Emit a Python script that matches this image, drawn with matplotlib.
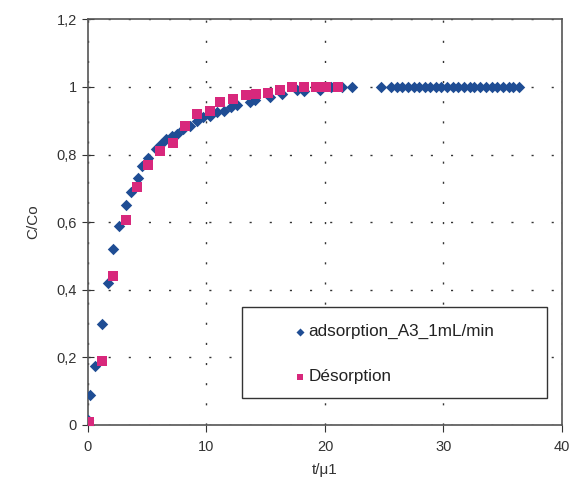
import matplotlib
matplotlib.use('Agg')
import matplotlib.pyplot as plt
from matplotlib.patches import Rectangle

plt.rcParams['font.family'] = ['Liberation Sans', 'DejaVu Sans']

# adsorption_A3_1mL/min (blue diamonds)
ads_t = [0, 0.15, 0.6, 1.15, 1.65, 2.1, 2.6, 3.2, 3.65, 4.2, 4.6, 5.1, 5.7, 6.2, 6.6,
         7.1, 7.5, 8.0, 8.6, 9.2, 9.7, 10.3, 10.9, 11.5, 12.1, 12.6, 13.7, 14.1, 15.4,
         16.4, 17.6, 18.2, 19.6, 20.5, 21.4, 22.3, 24.7,
         25.6, 26.1, 26.5, 27.0, 27.5, 27.9, 28.4, 28.9, 29.4, 29.8, 30.3, 30.8,
         31.2, 31.7, 32.2, 32.6, 33.1, 33.6, 34.1, 34.5, 35.0, 35.5, 35.9, 36.4]
ads_c = [0.015, 0.09, 0.175, 0.30, 0.42, 0.52, 0.59, 0.65, 0.69, 0.73, 0.765, 0.79, 0.815, 0.83, 0.845,
         0.855, 0.86, 0.875, 0.885, 0.90, 0.91, 0.915, 0.925, 0.93, 0.94, 0.945, 0.955, 0.96, 0.97,
         0.98, 0.99, 0.988, 0.99, 1.0, 1.0, 1.0, 1.0,
         1.0, 1.0, 1.0, 1.0, 1.0, 1.0, 1.0, 1.0, 1.0, 1.0, 1.0, 1.0,
         1.0, 1.0, 1.0, 1.0, 1.0, 1.0, 1.0, 1.0, 1.0, 1.0, 1.0, 1.0]

# Désorption (pink squares)
des_t = [0, 0.1, 1.15, 2.1, 3.2, 4.1, 5.1, 6.1, 7.2, 8.2, 9.2, 10.3, 11.1, 12.2,
         13.3, 14.2, 15.2, 16.2, 17.2, 18.2, 19.2, 20.1, 21.1]
des_c = [0.0, 0.01, 0.19, 0.44, 0.605, 0.705, 0.77, 0.81, 0.835, 0.885, 0.92, 0.93, 0.955, 0.965,
         0.975, 0.98, 0.983, 0.99, 1.0, 1.0, 1.0, 1.0, 1.0]

y_ticks = [0, 0.2, 0.4, 0.6, 0.8, 1.0, 1.2]
y_labels = ['0', '0,2', '0,4', '0,6', '0,8', '1', '1,2']
x_ticks = [0, 10, 20, 30, 40]

fig = plt.figure(figsize=(5.72, 4.88), dpi=100)
ax = fig.add_axes([0.1538, 0.1291, 0.8287, 0.8314])

ax.scatter(ads_t, ads_c, marker='D', s=34, color='#1f4d94', label='adsorption_A3_1mL/min',
           zorder=3, linewidths=0)
ax.scatter(des_t, des_c, marker='s', s=46, color='#d8287c', label='Désorption',
           zorder=4, linewidths=0)

ax.set_xlim(0, 40)
ax.set_ylim(0, 1.2)
ax.set_xticks(x_ticks)
ax.set_yticks(y_ticks)
ax.set_yticklabels(y_labels)
ax.tick_params(axis='both', labelsize=10.5, colors='#333333')
ax.tick_params(axis='x', direction='out', length=5, pad=6)
ax.tick_params(axis='y', direction='inout', length=8, pad=4)
for s in ax.spines.values():
    s.set_color('#555555')
    s.set_linewidth(1.2)

ax.grid(True, color='#333333', linewidth=1.0, linestyle=(0, (1.5, 13)), zorder=0)

ax.set_xlabel('t/\u03bc1', fontsize=11, color='#333333', labelpad=6)
ax.set_ylabel('C/Co', fontsize=11, color='#333333', labelpad=12)

# legend box
ax.add_patch(Rectangle((0.324, 0.066), 0.644, 0.225, transform=ax.transAxes,
                       fill=True, facecolor='white', edgecolor='#333333', lw=1.0, zorder=5))
leg = ax.legend(loc='upper left', bbox_to_anchor=(0.415, 0.27), frameon=False,
                fontsize=12.3, handletextpad=0.1, labelspacing=1.75, markerscale=0.7,
                borderpad=0, handlelength=0.8)
leg.set_zorder(6)
for t in leg.get_texts():
    t.set_color('#222222')

fig.savefig('out.png', dpi=100)
